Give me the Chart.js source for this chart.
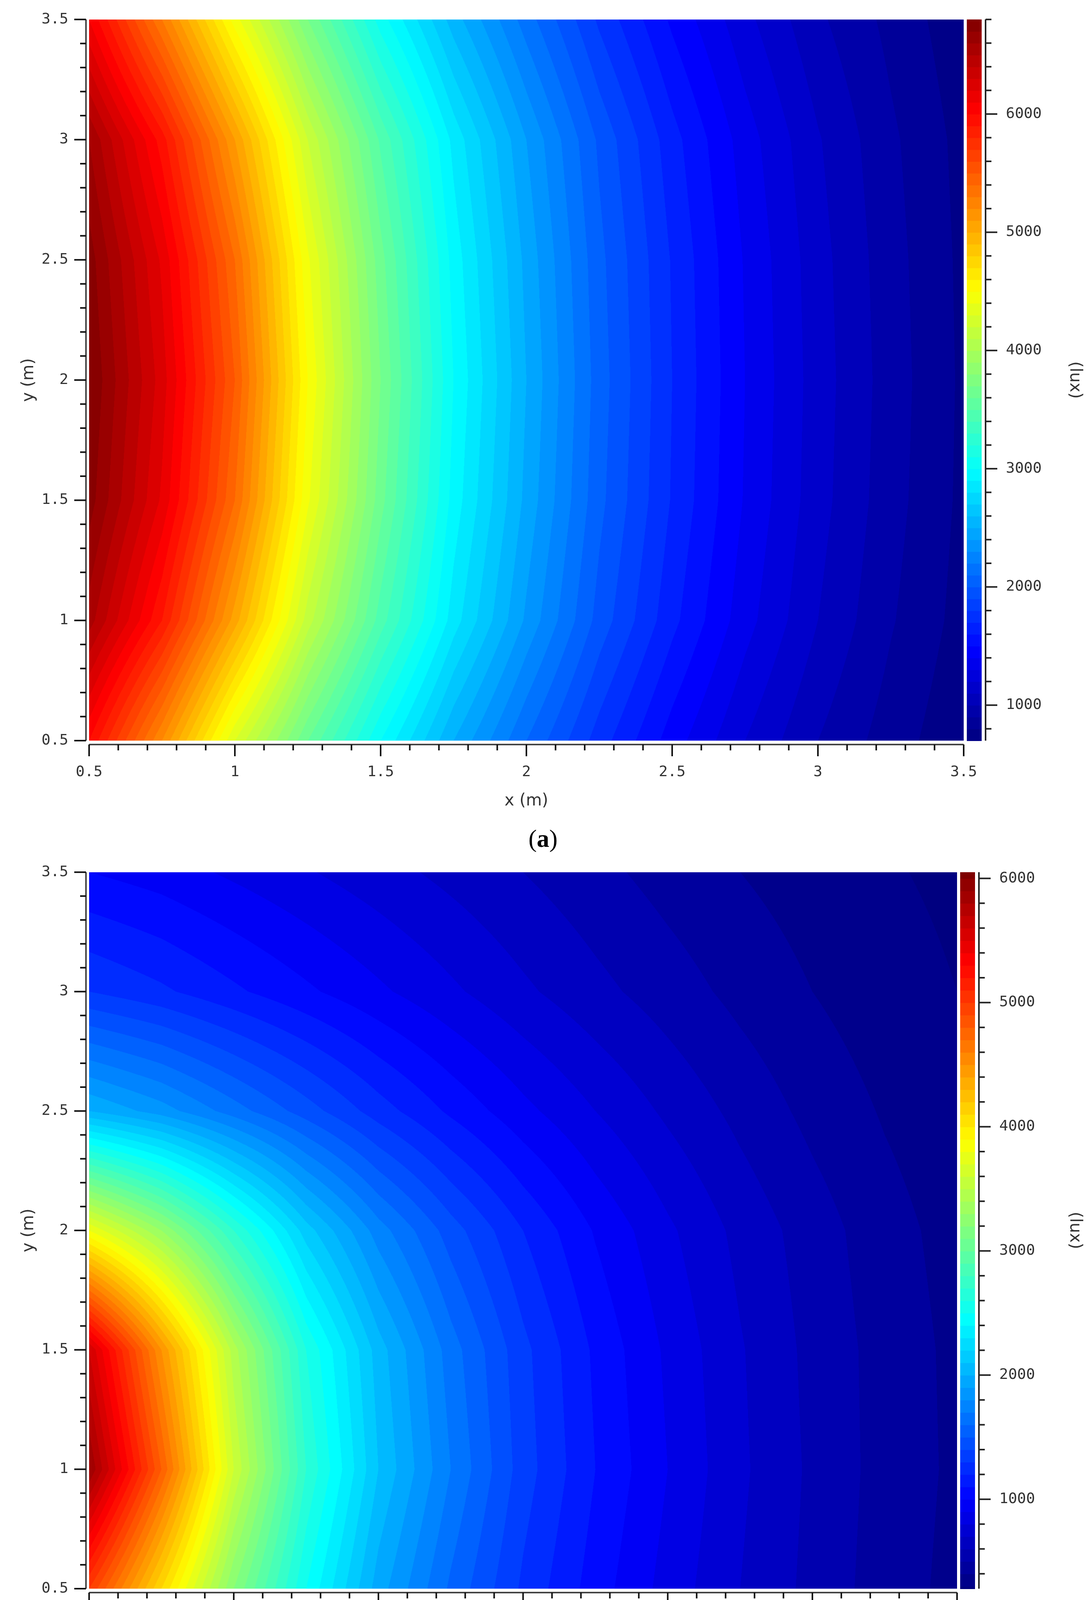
<!DOCTYPE html>
<html><head><meta charset="utf-8">
<script src="https://cdn.jsdelivr.net/npm/chart.js@4"></script>
<style>
body{margin:0;background:#fff;width:2779px;height:4371px;position:relative;overflow:hidden}
canvas{position:absolute;left:0}
.lab{position:absolute;width:2779px;text-align:center;font-family:"Liberation Serif","DejaVu Serif",serif;font-size:64px;color:#000}
</style></head><body>
<canvas id="ca" width="2779" height="2153" style="top:-73px"></canvas>
<canvas id="cb" width="2779" height="2141" style="top:2110px"></canvas>
<div class="lab" style="top:2110px">(<b>a</b>)</div>
<div class="lab" style="top:4268px">(<b>b</b>)</div>
<script>
// grid coordinates (m)
const xGrid = [0.5,0.75,1.0,1.25,1.5,1.75,2.0,2.25,2.5,2.75,3.0,3.25,3.5];
const yGrid = [0.5,1.0,1.5,2.0,2.5,3.0,3.5];
const axisTicks = [0.5,1,1.5,2,2.5,3,3.5];
const cbTicks = [1000,2000,3000,4000,5000,6000];
// illuminance (lux), rows follow yGrid, columns follow xGrid
const luxA = [
 [6000,5200,4300,3600,3000,2500,2100,1750,1450,1200,1000,850,720],
 [6550,5900,5050,4150,3450,2850,2380,1960,1630,1340,1100,910,760],
 [6750,6180,5400,4420,3640,2960,2470,2030,1690,1390,1140,940,775],
 [6800,6250,5500,4500,3700,3000,2500,2050,1700,1400,1150,950,780],
 [6750,6180,5400,4420,3640,2960,2470,2030,1690,1390,1140,940,775],
 [6600,5950,5100,4200,3480,2870,2400,1980,1640,1350,1110,920,765],
 [6100,5300,4450,3700,3050,2550,2150,1780,1480,1230,1020,870,730]
];
const luxB = [
 [5000,4100,3200,2500,1950,1580,1280,1050,860,700,570,450,370],
 [5900,4800,3600,2700,2100,1700,1350,1100,900,720,580,460,380],
 [5600,4500,3450,2600,2050,1650,1330,1080,880,710,570,460,375],
 [3800,3300,2700,2150,1750,1450,1200,990,820,670,550,440,360],
 [2000,1850,1650,1450,1250,1080,930,800,680,570,470,390,330],
 [1300,1220,1120,1020,920,820,720,630,550,470,400,340,300],
 [1000,950,880,810,740,670,600,530,460,400,350,310,280]
];
const rangeA=[700,6800], rangeB=[280,6050];

function jet(t){
  t=Math.max(0,Math.min(1,t));
  const f=(a)=>Math.max(0,Math.min(1,a));
  const r=f(Math.min(4*t-1.5,-4*t+4.5));
  const g=f(Math.min(4*t-0.5,-4*t+3.5));
  const b=f(Math.min(4*t+0.5,-4*t+2.5));
  return [r*255,g*255,b*255];
}
function sample(grid,x,y){
  let i=0; while(i<xGrid.length-2 && x>xGrid[i+1]) i++;
  let j=0; while(j<yGrid.length-2 && y>yGrid[j+1]) j++;
  const tx=Math.max(0,Math.min(1,(x-xGrid[i])/(xGrid[i+1]-xGrid[i])));
  const ty=Math.max(0,Math.min(1,(y-yGrid[j])/(yGrid[j+1]-yGrid[j])));
  const a=grid[j][i],b=grid[j][i+1],c=grid[j+1][i],d=grid[j+1][i+1];
  return (a*(1-tx)+b*tx)*(1-ty)+(c*(1-tx)+d*tx)*ty;
}
function makeChart(id,grid,range,rightW,topPad){
  const [vmin,vmax]=range;
  const heat={id:'heat',
    beforeDatasetsDraw(ch){
      const ctx=ch.ctx,a=ch.chartArea,xs=ch.scales.x,ys=ch.scales.y;
      const w=Math.round(a.right-a.left),h=Math.round(a.bottom-a.top);
      const img=ctx.createImageData(w,h);
      for(let py=0;py<h;py++){
        const yv=ys.getValueForPixel(a.top+py+0.5);
        for(let px=0;px<w;px++){
          const xv=xs.getValueForPixel(a.left+px+0.5);
          let v=sample(grid,xv,yv);
          v=Math.floor(v/100)*100+50;
          const c=jet((v-vmin)/(vmax-vmin));
          const k=(py*w+px)*4;
          img.data[k]=c[0];img.data[k+1]=c[1];img.data[k+2]=c[2];img.data[k+3]=255;
        }
      }
      ctx.putImageData(img,Math.round(a.left),Math.round(a.top));
    },
    afterDraw(ch){
      const ctx=ch.ctx,a=ch.chartArea,xs=ch.scales.x,ys=ch.scales.y,cs=ch.scales.cb;
      ctx.save();
      const bx=a.right+8,bw=38;
      for(let v=vmin;v<vmax;v+=10){
        const y0=cs.getPixelForValue(v),y1=cs.getPixelForValue(Math.min(v+10,vmax));
        const q=Math.floor(v/100)*100+50;
        const c=jet((q-vmin)/(vmax-vmin));
        ctx.fillStyle=`rgb(${c[0]|0},${c[1]|0},${c[2]|0})`;
        ctx.fillRect(bx,y1,bw,y0-y1+1);
      }
      ctx.strokeStyle='#222';ctx.lineWidth=4;
      const lx=bx+bw+10;
      ctx.beginPath();ctx.moveTo(lx,cs.top);ctx.lineTo(lx,cs.bottom);ctx.stroke();
      for(let v=Math.ceil(vmin/200)*200;v<=vmax;v+=200){
        const y=cs.getPixelForValue(v);
        ctx.beginPath();ctx.moveTo(lx,y);ctx.lineTo(lx+(v%1000===0?30:15),y);ctx.stroke();
      }
      ctx.strokeStyle='#444';
      const ax=a.left-8, ay=a.bottom+10;
      ctx.beginPath();ctx.moveTo(ax,a.top);ctx.lineTo(ax,a.bottom);ctx.stroke();
      ctx.beginPath();ctx.moveTo(a.left,ay);ctx.lineTo(a.right,ay);ctx.stroke();
      ctx.strokeStyle='#111';
      for(let k=5;k<=35;k++){
        const v=k/10, major=(k%5===0);
        const L=major?30:15;
        const px=xs.getPixelForValue(v);
        ctx.beginPath();ctx.moveTo(px,ay);ctx.lineTo(px,ay+L);ctx.stroke();
        const py=ys.getPixelForValue(v);
        ctx.beginPath();ctx.moveTo(ax,py);ctx.lineTo(ax-L,py);ctx.stroke();
      }
      ctx.restore();
    }};
  const tickFont={family:'DejaVu Sans Mono',size:38};
  const titleFont={family:'DejaVu Sans',size:42};
  return new Chart(document.getElementById(id),{
    type:'scatter',
    data:{datasets:[{data:[]}]},
    options:{responsive:false,animation:false,devicePixelRatio:1,
      layout:{padding:{top:topPad,left:45,right:0,bottom:0}},
      plugins:{legend:{display:false},tooltip:{enabled:false}},
      scales:{
        x:{type:'linear',min:0.5,max:3.5,afterBuildTicks:s=>{s.ticks=axisTicks.map(v=>({value:v}));},
          grid:{display:false},border:{display:false},
          ticks:{font:tickFont,color:'#333',padding:50,maxRotation:0,callback:v=>String(v)},
          title:{display:true,text:'x (m)',font:titleFont,color:'#333',padding:{top:0}},
          afterFit:s=>{s.height=184;}},
        y:{type:'linear',min:0.5,max:3.5,afterBuildTicks:s=>{s.ticks=axisTicks.map(v=>({value:v}));},
          grid:{display:false},border:{display:false},
          ticks:{font:tickFont,color:'#333',padding:45,callback:v=>String(v)},
          title:{display:true,text:'y (m)',font:titleFont,color:'#333'},
          afterFit:s=>{s.width=183;}},
        cb:{type:'linear',position:'right',min:vmin,max:vmax,
          afterBuildTicks:s=>{s.ticks=cbTicks.map(v=>({value:v}));},
          grid:{display:false},border:{display:false},
          ticks:{font:tickFont,color:'#333',padding:100,callback:v=>String(v)},
          title:{display:true,text:'(lux)',font:titleFont,color:'#333'},
          afterFit:s=>{s.width=rightW;}}
      }},
    plugins:[heat]
  });
}
makeChart('ca',luxA,rangeA,313,47);
makeChart('cb',luxB,rangeB,330,50);
</script></body></html>
